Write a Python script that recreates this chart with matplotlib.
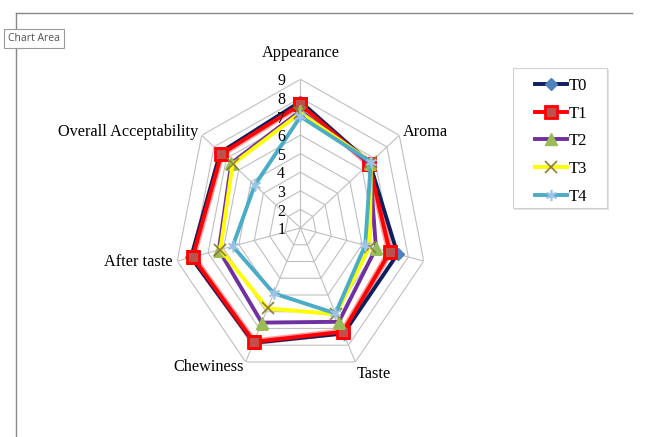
import numpy as np
import matplotlib
matplotlib.use("Agg")
import matplotlib.pyplot as plt
from matplotlib.lines import Line2D
from matplotlib.patches import Rectangle

categories = ["Appearance", "Aroma", "Texture", "Taste", "Chewiness",
              "After taste", "Overall Acceptability"]
series_names = ["T0", "T1", "T2", "T3", "T4"]
t0 = [7.8, 6.6, 7.3, 7.3, 7.85, 8.1, 7.5]
t1 = [7.65, 6.55, 6.8, 7.2, 7.8, 8.0, 7.4]
t2 = [7.3, 6.6, 5.9, 6.6, 6.65, 6.3, 6.6]
t3 = [7.2, 6.7, 5.5, 6.15, 5.8, 6.2, 6.5]
t4 = [7.0, 6.7, 5.2, 6.1, 4.9, 5.4, 4.7]
tick_values = [1, 2, 3, 4, 5, 6, 7, 8, 9]

serif = "Liberation Serif"
W, H = 646, 437

fig = plt.figure(figsize=(6.46, 4.37), dpi=100)
ax = fig.add_axes([0.2695, 0.138, 0.3913, 0.6805], projection="polar")
ax.set_theta_zero_location("N")
ax.set_theta_direction(-1)
ax.set_aspect("auto")
ax.set_ylim(1, 9)
ax.grid(False)
ax.spines["polar"].set_visible(False)
ax.set_xticks([])
ax.set_yticks([])
ax.patch.set_alpha(0)

n = len(categories)
angles = np.arange(n) * 2 * np.pi / n
closed = np.append(angles, angles[0])

# heptagon grid
for v in tick_values[1:]:
    ax.plot(closed, [v] * (n + 1), color="#BFBFBF", lw=0.8, zorder=1)
for a in angles:
    ax.plot([a, a], [1, 9], color="#BFBFBF", lw=0.8, zorder=1)

styles = [
    dict(color="#0D1F5C", marker="D", ms=6, mfc="#4F81BD", mec="#4F81BD"),
    dict(color="#FF0000", marker="s", ms=9, mfc="#C0504D", mec="#FF0000", mew=2),
    dict(color="#7030A0", marker="^", ms=8, mfc="#9BBB59", mec="#9BBB59"),
    dict(color="#FFFF00", marker="x", ms=9, mec="#8C7B3A", mew=1.2),
    dict(color="#4BACC6", marker=(6, 2, 0), ms=8, mec="#9DC3E6", mew=1.2),
]
handles = []
for name, vals, st in zip(series_names, [t0, t1, t2, t3, t4], styles):
    v = np.append(vals, vals[0])
    if name == "T1":
        ax.plot(closed, v, color="#FF9C9C", lw=5, zorder=2, solid_joinstyle="miter")
    h, = ax.plot(closed, v, lw=2.8, zorder=3, label=name, solid_joinstyle="miter", **st)
    handles.append(h)

# tick labels
for v in tick_values:
    ax.annotate(str(v), xy=(0, v), xytext=(-11, -1.5), textcoords="offset points",
                ha="right", va="center", fontsize=11.5, family=serif, zorder=5)

# category labels
label_pos = [(10.4, "center", "center"), (9.3, "left", "center"),
             (9.6, "left", "top"), (9.25, "left", "top"),
             (9.3, "right", "center"), (9.3, "right", "center"),
             (9.3, "right", "center")]
for a, cat, (r, ha, va) in zip(angles, categories, label_pos):
    if cat == "Texture":
        ax.annotate(cat, xy=(a, r), xytext=(0, 6), textcoords="offset points",
                    ha=ha, va=va, fontsize=11.7, family=serif)
    else:
        ax.text(a, r, cat, ha=ha, va=va, fontsize=11.7, family=serif)

# legend box (Excel style: wide side padding)
fig.add_artist(Rectangle((515 / W, 1 - 210 / H), 94 / W, 140 / H, transform=fig.transFigure,
                         fc="#E4E4E4", ec="none", zorder=1))
fig.add_artist(Rectangle((513 / W, 1 - 208 / H), 94 / W, 140 / H, transform=fig.transFigure,
                         fc="white", ec="#D0D0D0", lw=0.8, zorder=2))
leg = fig.legend(handles=handles, loc="upper left", bbox_to_anchor=(535 / W, 1 - 78 / H),
                 prop={"family": serif, "size": 12}, frameon=False,
                 handlelength=1.9, handletextpad=0.15, borderpad=0,
                 labelspacing=0.7, borderaxespad=0, numpoints=1)
leg.set_zorder(5)

# chart area border
fig.add_artist(Line2D([16 / W, 632 / W], [1 - 13 / H, 1 - 13 / H], color="#878787", lw=1))
fig.add_artist(Line2D([16 / W, 16 / W], [1 - 13 / H, 0], color="#878787", lw=1))
fig.text(8 / W, 1 - 38.5 / H, "Chart Area", fontsize=7.5, family="Open Sans", color="#505050",
         ha="left", va="center", zorder=10,
         bbox=dict(boxstyle="square,pad=0.4", fc="white", ec="#9A9A9A", lw=0.8))

fig.savefig("out.png", dpi=100)
